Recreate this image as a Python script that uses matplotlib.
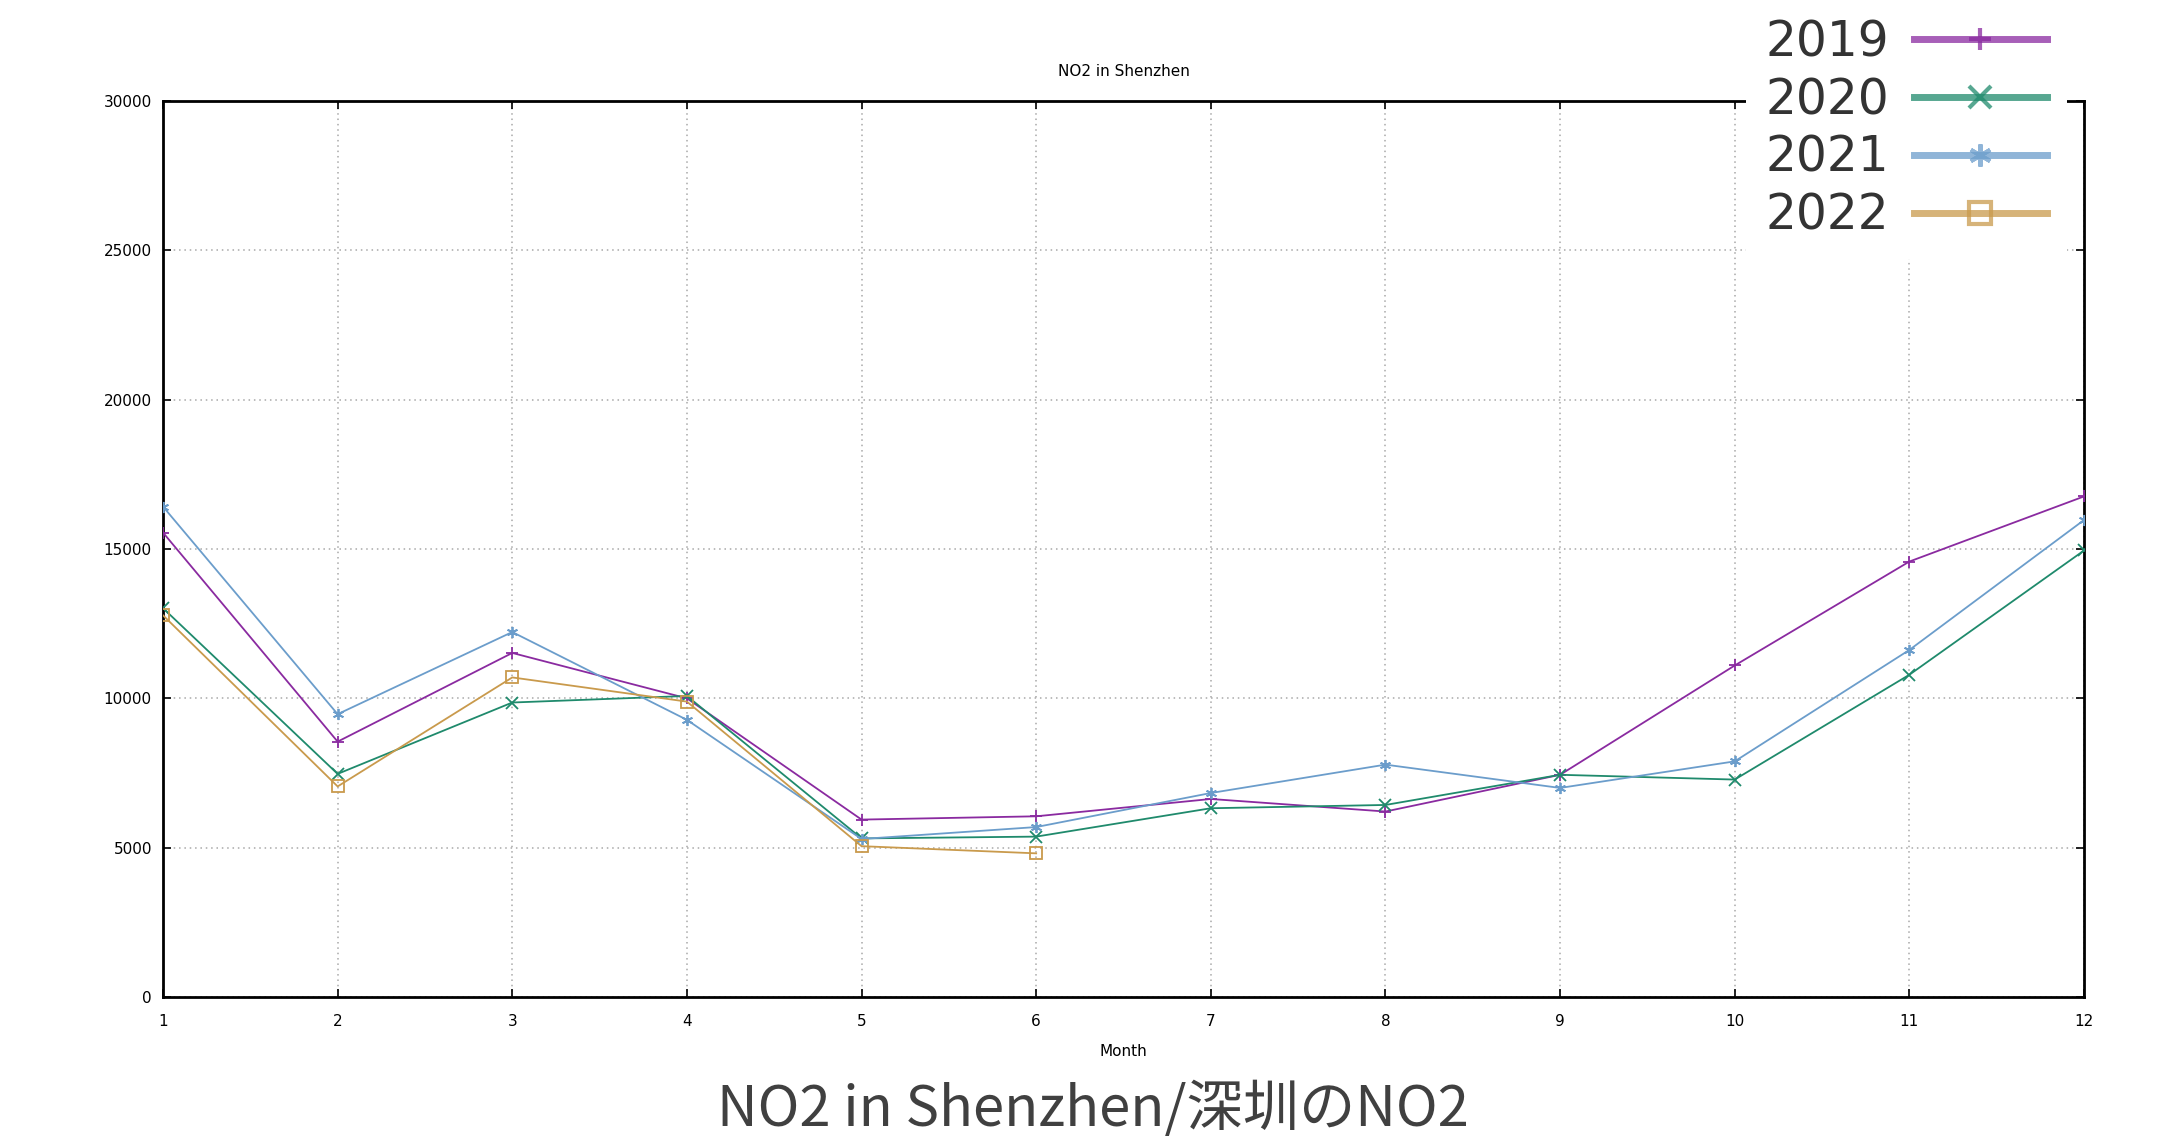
import matplotlib
matplotlib.use("Agg")
import matplotlib.pyplot as plt
from matplotlib.lines import Line2D

# monthly NO2 values
months = list(range(1, 13))
no2_2019 = [15550, 8550, 11520, 10000, 5940, 6050, 6630, 6210, 7440, 11100, 14580, 16760]
no2_2020 = [13020, 7470, 9860, 10080, 5310, 5370, 6320, 6430, 7440, 7280, 10790, 14950]
no2_2021 = [16420, 9470, 12220, 9280, 5290, 5690, 6830, 7780, 7000, 7890, 11620, 15970]
no2_2022 = [12780, 7050, 10700, 9890, 5050, 4810]
years = ["2019", "2020", "2021", "2022"]
yticks = [0, 5000, 10000, 15000, 20000, 25000, 30000]

colors = ["#8a2aa0", "#1f8a6c", "#6b9dcb", "#c99a4c"]
markers = ["+", "x", (6, 2, 0), "s"]

W, H = 2169, 1148
fig = plt.figure(figsize=(W / 100, H / 100), dpi=100)
ax = fig.add_axes([163 / W, 1 - 997 / H, (2084 - 163) / W, (997 - 101) / H])

series = [no2_2019, no2_2020, no2_2021, no2_2022]
for vals, c, m in zip(series, colors, markers):
    ax.plot(months[:len(vals)], vals, color=c, lw=1.3, marker=m, ms=8,
            mew=1.3, fillstyle="none", zorder=3)

ax.set_xlim(1, 12)
ax.set_ylim(0, 30000)
ax.set_xticks(months)
ax.set_yticks(yticks)
ax.tick_params(direction="in", length=6, width=1.2, labelsize=11,
               top=True, right=True)
ax.tick_params(axis="x", pad=12)
ax.tick_params(axis="y", pad=8)
ax.grid(True, color="#a8a8a8", linestyle=(0, (1, 2.5)), lw=1.1)
for s in ax.spines.values():
    s.set_linewidth(2)

ax.set_title("NO2 in Shenzhen", fontsize=11, pad=18)
ax.set_xlabel("Month", fontsize=11, labelpad=11)

# legend with white box, overlapping the top-right corner of the frame
handles = [Line2D([], [], color=c, lw=5, marker=m, ms=16, mew=3,
                  fillstyle="none", alpha=0.75)
           for c, m in zip(colors, markers)]
leg = fig.legend(handles, years, loc="upper left",
                 bbox_to_anchor=(1746 / W, 1 + 1 / H),
                 bbox_transform=fig.transFigure, fontsize=35,
                 markerfirst=False, handlelength=2.75, handletextpad=0.5,
                 labelspacing=0.2, borderpad=0.4, borderaxespad=0,
                 frameon=True, fancybox=False, framealpha=1,
                 edgecolor="none", facecolor="white")
for t in leg.get_texts():
    t.set_color("#333333")

fig.text(1093 / W, 1 - 1110 / H, "NO2 in Shenzhen/深圳のNO2",
         family=["Noto Sans CJK JP", "DejaVu Sans"], fontsize=40.5,
         color="#404040", ha="center", va="center")

fig.savefig("out.png", dpi=100)
